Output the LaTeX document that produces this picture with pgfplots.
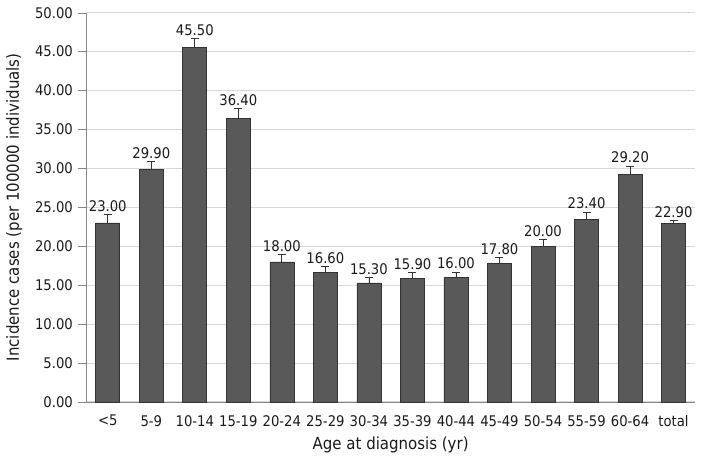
\documentclass[border=0pt]{standalone}
\usepackage{pgfplots}
\usepackage{pgfplotstable}
\usepackage{fontspec}
\setmainfont{DejaVu Sans Condensed}
\pgfplotsset{compat=1.18}

\definecolor{barfill}{HTML}{595959}
\definecolor{gridgray}{HTML}{D9D9D9}
\definecolor{axisgray}{HTML}{868686}
\definecolor{txt}{HTML}{1A1A1A}

\pgfplotstableread{
x  y     err
0  23.0  1.10
1  29.9  1.00
2  45.5  1.20
3  36.4  1.25
4  18.0  0.90
5  16.6  0.80
6  15.3  0.70
7  15.9  0.70
8  16.0  0.70
9  17.8  0.80
10 20.0  0.90
11 23.4  1.00
12 29.2  1.10
13 22.9  0.40
}\incidence

\begin{document}
\fontsize{11}{13}\selectfont
\begin{tikzpicture}
\begin{axis}[
    width=457pt, height=292pt,
    scale only axis,
    xmin=-0.5, xmax=13.5,
    ymin=0, ymax=50,
    ytick={0,5,...,50},
    xtick=data,
    xticklabels={<5,5-9,10-14,15-19,20-24,25-29,30-34,35-39,40-44,45-49,50-54,55-59,60-64,total},
    axis lines*=left,
    axis line style={axisgray},
    ymajorgrids,
    grid style={gridgray, line width=0.8pt},
    xtick style={draw=none},
    ytick style={axisgray},
    tick align=outside,
    major tick length=6pt,
    tick label style={font=\fontsize{11}{13}\selectfont, text=txt},
    yticklabel style={/pgf/number format/.cd, fixed, fixed zerofill, precision=2, assume math mode=true},
    xlabel={Age at diagnosis (yr)},
    ylabel={Incidence cases (per 100000 individuals)},
    label style={font=\fontsize{12.5}{14}\selectfont, text=txt},
    xlabel style={yshift=0pt},
    ylabel style={yshift=2pt},
    clip=false,
]
\coordinate (o) at (rel axis cs:0,0);
\addplot[
    ybar, bar width=18pt,
    fill=barfill, draw=black!80, line width=0.5pt,
    error bars/.cd, y dir=plus, y explicit,
    error bar style={black!80, line width=0.6pt},
    error mark options={rotate=90, black!80, line width=0.6pt, mark size=3pt},
] table[x=x, y=y, y error=err] {\incidence};
\addplot[
    draw=none, mark=none,
    visualization depends on={\thisrow{err} \as \err},
    nodes near coords={\pgfmathprintnumber[fixed,fixed zerofill,precision=2,assume math mode=true]{\pgfplotspointmeta}},
    every node near coord/.append style={font=\fontsize{11}{13}\selectfont, text=txt,
        shift={(axis direction cs:0,\err)}, anchor=south, inner sep=2pt},
] table[x=x, y=y] {\incidence};
\end{axis}
\pgfresetboundingbox
\path[use as bounding box] (o) ++(-64.5pt,-43.5pt) rectangle ++(528pt,345pt);
\end{tikzpicture}
\end{document}
